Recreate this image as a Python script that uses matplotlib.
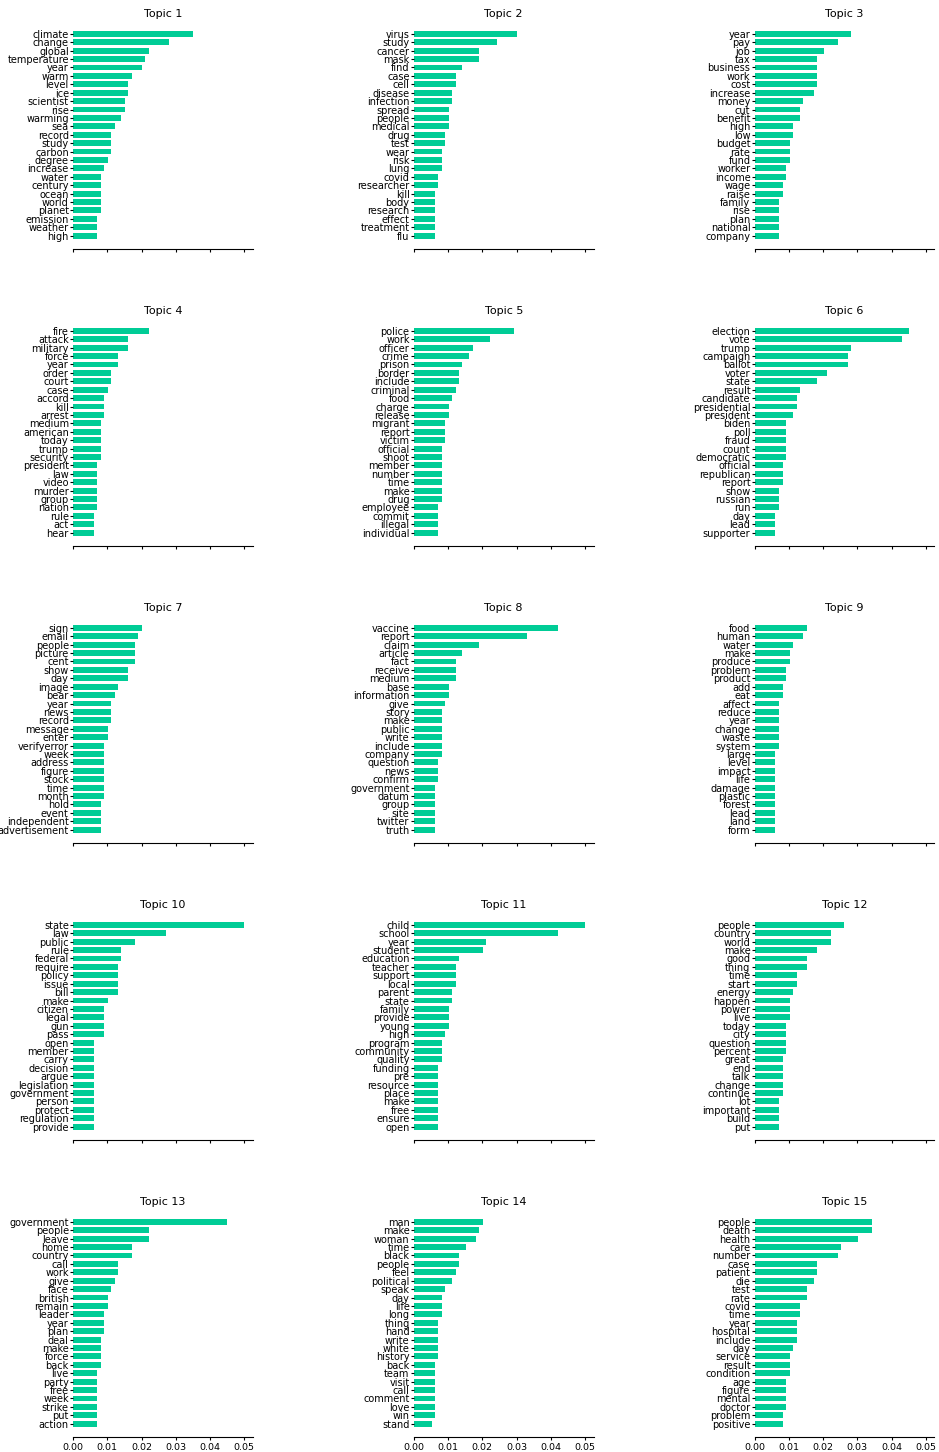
import matplotlib
matplotlib.use('Agg')
import matplotlib.pyplot as plt

# top words per topic and their weights
topic1_words = ['climate', 'change', 'global', 'temperature', 'year', 'warm', 'level', 'ice', 'scientist', 'rise',
                'warming', 'sea', 'record', 'study', 'carbon', 'degree', 'increase', 'water', 'century', 'ocean',
                'world', 'planet', 'emission', 'weather', 'high']
topic1_weights = [0.0351, 0.0281, 0.0222, 0.0211, 0.0202, 0.0173, 0.0161, 0.0161, 0.0152, 0.0152,
                  0.0140, 0.0123, 0.0111, 0.0111, 0.0111, 0.0102, 0.0091, 0.0082, 0.0082, 0.0082,
                  0.0082, 0.0082, 0.0070, 0.0070, 0.0070]

topic2_words = ['virus', 'study', 'cancer', 'mask', 'find', 'case', 'cell', 'disease', 'infection', 'spread',
                'people', 'medical', 'drug', 'test', 'wear', 'risk', 'lung', 'covid', 'researcher', 'kill',
                'body', 'research', 'effect', 'treatment', 'flu']
topic2_weights = [0.0301, 0.0243, 0.0190, 0.0190, 0.0141, 0.0124, 0.0124, 0.0112, 0.0112, 0.0103,
                  0.0103, 0.0103, 0.0092, 0.0092, 0.0083, 0.0083, 0.0083, 0.0071, 0.0071, 0.0062,
                  0.0062, 0.0062, 0.0062, 0.0062, 0.0062]

topic3_words = ['year', 'pay', 'job', 'tax', 'business', 'work', 'cost', 'increase', 'money', 'cut',
                'benefit', 'high', 'low', 'budget', 'rate', 'fund', 'worker', 'income', 'wage', 'raise',
                'family', 'rise', 'plan', 'national', 'company']
topic3_weights = [0.0281, 0.0243, 0.0202, 0.0181, 0.0181, 0.0181, 0.0181, 0.0173, 0.0140, 0.0132,
                  0.0132, 0.0111, 0.0111, 0.0102, 0.0102, 0.0102, 0.0091, 0.0091, 0.0082, 0.0082,
                  0.0070, 0.0070, 0.0070, 0.0070, 0.0070]

topic4_words = ['fire', 'attack', 'military', 'force', 'year', 'order', 'court', 'case', 'accord', 'kill',
                'arrest', 'medium', 'american', 'today', 'trump', 'security', 'president', 'law', 'video', 'murder',
                'group', 'nation', 'rule', 'act', 'hear']
topic4_weights = [0.0222, 0.0161, 0.0161, 0.0132, 0.0132, 0.0111, 0.0111, 0.0102, 0.0091, 0.0091,
                  0.0091, 0.0082, 0.0082, 0.0082, 0.0082, 0.0082, 0.0070, 0.0070, 0.0070, 0.0070,
                  0.0070, 0.0070, 0.0061, 0.0061, 0.0061]

topic5_words = ['police', 'work', 'officer', 'crime', 'prison', 'border', 'include', 'criminal', 'food', 'charge',
                'release', 'migrant', 'report', 'victim', 'official', 'shoot', 'member', 'number', 'time', 'make',
                'drug', 'employee', 'commit', 'illegal', 'individual']
topic5_weights = [0.0292, 0.0222, 0.0173, 0.0162, 0.0141, 0.0133, 0.0133, 0.0124, 0.0112, 0.0103,
                  0.0103, 0.0092, 0.0092, 0.0092, 0.0083, 0.0083, 0.0083, 0.0083, 0.0083, 0.0083,
                  0.0083, 0.0071, 0.0071, 0.0071, 0.0071]

topic6_words = ['election', 'vote', 'trump', 'campaign', 'ballot', 'voter', 'state', 'result', 'candidate', 'presidential',
                'president', 'biden', 'poll', 'fraud', 'count', 'democratic', 'official', 'republican', 'report', 'show',
                'russian', 'run', 'day', 'lead', 'supporter']
topic6_weights = [0.0450, 0.0430, 0.0281, 0.0272, 0.0272, 0.0211, 0.0181, 0.0132, 0.0123, 0.0123,
                  0.0111, 0.0091, 0.0091, 0.0091, 0.0091, 0.0091, 0.0082, 0.0082, 0.0082, 0.0070,
                  0.0070, 0.0070, 0.0061, 0.0061, 0.0061]

topic7_words = ['sign', 'email', 'people', 'picture', 'cent', 'show', 'day', 'image', 'bear', 'year',
                'news', 'record', 'message', 'enter', 'verifyerror', 'week', 'address', 'figure', 'stock', 'time',
                'month', 'hold', 'event', 'independent', 'advertisement']
topic7_weights = [0.0202, 0.0190, 0.0181, 0.0181, 0.0181, 0.0161, 0.0161, 0.0132, 0.0123, 0.0111,
                  0.0111, 0.0111, 0.0102, 0.0102, 0.0091, 0.0091, 0.0091, 0.0091, 0.0091, 0.0091,
                  0.0091, 0.0082, 0.0082, 0.0082, 0.0082]

topic8_words = ['vaccine', 'report', 'claim', 'article', 'fact', 'receive', 'medium', 'base', 'information', 'give',
                'story', 'make', 'public', 'write', 'include', 'company', 'question', 'news', 'confirm', 'government',
                'datum', 'group', 'site', 'twitter', 'truth']
topic8_weights = [0.0421, 0.0330, 0.0190, 0.0141, 0.0124, 0.0124, 0.0124, 0.0103, 0.0103, 0.0092,
                  0.0083, 0.0083, 0.0083, 0.0083, 0.0083, 0.0083, 0.0071, 0.0071, 0.0071, 0.0062,
                  0.0062, 0.0062, 0.0062, 0.0062, 0.0062]

topic9_words = ['food', 'human', 'water', 'make', 'produce', 'problem', 'product', 'add', 'eat', 'affect',
                'reduce', 'year', 'change', 'waste', 'system', 'large', 'level', 'impact', 'life', 'damage',
                'plastic', 'forest', 'lead', 'land', 'form']
topic9_weights = [0.0152, 0.0140, 0.0111, 0.0102, 0.0102, 0.0091, 0.0091, 0.0082, 0.0082, 0.0070,
                  0.0070, 0.0070, 0.0070, 0.0070, 0.0070, 0.0061, 0.0061, 0.0061, 0.0061, 0.0061,
                  0.0061, 0.0061, 0.0061, 0.0061, 0.0061]

topic10_words = ['state', 'law', 'public', 'rule', 'federal', 'require', 'policy', 'issue', 'bill', 'make',
                 'citizen', 'legal', 'gun', 'pass', 'open', 'member', 'carry', 'decision', 'argue', 'legislation',
                 'government', 'person', 'protect', 'regulation', 'provide']
topic10_weights = [0.0500, 0.0272, 0.0181, 0.0140, 0.0140, 0.0132, 0.0132, 0.0132, 0.0132, 0.0102,
                   0.0091, 0.0091, 0.0091, 0.0091, 0.0061, 0.0061, 0.0061, 0.0061, 0.0061, 0.0061,
                   0.0061, 0.0061, 0.0061, 0.0061, 0.0061]

topic11_words = ['child', 'school', 'year', 'student', 'education', 'teacher', 'support', 'local', 'parent', 'state',
                 'family', 'provide', 'young', 'high', 'program', 'community', 'quality', 'funding', 'pre', 'resource',
                 'place', 'make', 'free', 'ensure', 'open']
topic11_weights = [0.0500, 0.0421, 0.0211, 0.0202, 0.0133, 0.0124, 0.0124, 0.0124, 0.0112, 0.0112,
                   0.0103, 0.0103, 0.0103, 0.0092, 0.0083, 0.0083, 0.0083, 0.0071, 0.0071, 0.0071,
                   0.0071, 0.0071, 0.0071, 0.0071, 0.0071]

topic12_words = ['people', 'country', 'world', 'make', 'good', 'thing', 'time', 'start', 'energy', 'happen',
                 'power', 'live', 'today', 'city', 'question', 'percent', 'great', 'end', 'talk', 'change',
                 'continue', 'lot', 'important', 'build', 'put']
topic12_weights = [0.0260, 0.0222, 0.0222, 0.0181, 0.0152, 0.0152, 0.0123, 0.0123, 0.0111, 0.0102,
                   0.0102, 0.0102, 0.0091, 0.0091, 0.0091, 0.0091, 0.0082, 0.0082, 0.0082, 0.0082,
                   0.0082, 0.0070, 0.0070, 0.0070, 0.0070]

topic13_words = ['government', 'people', 'leave', 'home', 'country', 'call', 'work', 'give', 'face', 'british',
                 'remain', 'leader', 'year', 'plan', 'deal', 'make', 'force', 'back', 'live', 'party',
                 'free', 'week', 'strike', 'put', 'action']
topic13_weights = [0.0450, 0.0222, 0.0222, 0.0173, 0.0173, 0.0132, 0.0132, 0.0123, 0.0111, 0.0102,
                   0.0102, 0.0091, 0.0091, 0.0091, 0.0082, 0.0082, 0.0082, 0.0082, 0.0070, 0.0070,
                   0.0070, 0.0070, 0.0070, 0.0070, 0.0070]

topic14_words = ['man', 'make', 'woman', 'time', 'black', 'people', 'feel', 'political', 'speak', 'day',
                 'life', 'long', 'thing', 'hand', 'write', 'white', 'history', 'back', 'team', 'visit',
                 'call', 'comment', 'love', 'win', 'stand']
topic14_weights = [0.0202, 0.0190, 0.0181, 0.0153, 0.0133, 0.0133, 0.0124, 0.0112, 0.0092, 0.0083,
                   0.0083, 0.0083, 0.0071, 0.0071, 0.0071, 0.0071, 0.0071, 0.0062, 0.0062, 0.0062,
                   0.0062, 0.0062, 0.0062, 0.0062, 0.0054]

topic15_words = ['people', 'death', 'health', 'care', 'number', 'case', 'patient', 'die', 'test', 'rate',
                 'covid', 'time', 'year', 'hospital', 'include', 'day', 'service', 'result', 'condition', 'age',
                 'figure', 'mental', 'doctor', 'problem', 'positive']
topic15_weights = [0.0343, 0.0343, 0.0302, 0.0252, 0.0243, 0.0181, 0.0181, 0.0173, 0.0152, 0.0152,
                   0.0132, 0.0132, 0.0123, 0.0123, 0.0123, 0.0111, 0.0102, 0.0102, 0.0102, 0.0091,
                   0.0091, 0.0091, 0.0091, 0.0082, 0.0082]

topics = [
    (topic1_words, topic1_weights), (topic2_words, topic2_weights), (topic3_words, topic3_weights),
    (topic4_words, topic4_weights), (topic5_words, topic5_weights), (topic6_words, topic6_weights),
    (topic7_words, topic7_weights), (topic8_words, topic8_weights), (topic9_words, topic9_weights),
    (topic10_words, topic10_weights), (topic11_words, topic11_weights), (topic12_words, topic12_weights),
    (topic13_words, topic13_weights), (topic14_words, topic14_weights), (topic15_words, topic15_weights),
]

barColor = '#00cc96'

fig, axes = plt.subplots(5, 3, figsize=(9.39, 14.52), dpi=100, sharex=True)
axes = axes.flatten()

for i, (words, weights) in enumerate(topics):
    ax = axes[i]
    ax.barh(words, weights, height=0.7, color=barColor)
    ax.invert_yaxis()
    ax.set_title('Topic ' + str(i + 1), fontsize=8, pad=2.5)
    ax.tick_params(axis='y', labelsize=7, length=2, width=0.8, pad=1)
    ax.tick_params(axis='x', labelsize=6.8, length=2, width=0.8, pad=2)
    for side in ['top', 'right', 'left']:
        ax.spines[side].set_visible(False)

fig.subplots_adjust(left=73 / 939, right=934.5 / 939, top=1 - 20.5 / 1452, bottom=1 - 1437 / 1452,
                    wspace=0.894, hspace=0.30)
fig.savefig('out.png', dpi=100)
